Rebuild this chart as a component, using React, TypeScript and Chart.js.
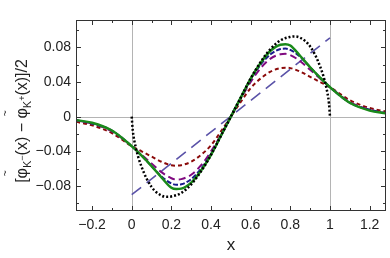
import React, { useEffect, useRef } from "react";
import { Chart, registerables } from "chart.js";

Chart.register(...registerables);

// ---------- data ----------
const curveX = [-0.28, -0.2, -0.1, 0, 0.05, 0.1, 0.15, 0.2, 0.225, 0.25, 0.3, 0.35, 0.4, 0.45, 0.5, 0.55, 0.6, 0.65, 0.7, 0.75, 0.775, 0.8, 0.85, 0.9, 0.95, 1, 1.1, 1.2, 1.28];
const greenY = [-0.004, -0.007, -0.016, -0.034, -0.045, -0.057, -0.07, -0.082, -0.0835, -0.083, -0.076, -0.062, -0.044, -0.022, 0, 0.022, 0.044, 0.062, 0.076, 0.083, 0.0835, 0.082, 0.07, 0.057, 0.045, 0.034, 0.016, 0.007, 0.004];
const navyY = [-0.004, -0.008, -0.016, -0.034, -0.045, -0.057, -0.069, -0.077, -0.0785, -0.078, -0.072, -0.06, -0.043, -0.022, 0, 0.022, 0.043, 0.06, 0.072, 0.078, 0.0785, 0.077, 0.069, 0.057, 0.045, 0.034, 0.016, 0.008, 0.004];
const purpleY = [-0.004, -0.008, -0.017, -0.034, -0.044, -0.054, -0.064, -0.071, -0.0725, -0.072, -0.067, -0.056, -0.04, -0.021, 0, 0.021, 0.04, 0.056, 0.067, 0.072, 0.0725, 0.071, 0.064, 0.054, 0.044, 0.034, 0.017, 0.008, 0.004];
const redY = [-0.006, -0.01, -0.019, -0.034, -0.04, -0.046, -0.052, -0.056, -0.0565, -0.056, -0.052, -0.044, -0.033, -0.017, 0, 0.017, 0.033, 0.044, 0.052, 0.056, 0.0565, 0.056, 0.052, 0.046, 0.04, 0.034, 0.019, 0.01, 0.006];
const blackX = [0, 0.005, 0.02, 0.05, 0.1, 0.15, 0.18, 0.2, 0.25, 0.3, 0.35, 0.4, 0.45, 0.5, 0.55, 0.6, 0.65, 0.7, 0.75, 0.8, 0.82, 0.85, 0.9, 0.95, 0.98, 0.995, 1];
const blackY = [0, -0.015, -0.035, -0.058, -0.081, -0.091, -0.0925, -0.092, -0.088, -0.078, -0.063, -0.044, -0.022, 0, 0.022, 0.044, 0.063, 0.078, 0.088, 0.092, 0.0925, 0.091, 0.081, 0.058, 0.035, 0.015, 0];
const lineX = [0, 1];
const lineY = [-0.09, 0.091];

const xTickValues = [-0.2, 0, 0.2, 0.4, 0.6, 0.8, 1, 1.2];
const xTickLabels = ["−0.2", "0", "0.2", "0.4", "0.6", "0.8", "1", "1.2"];
const xMinorTicks = [-0.1, 0.1, 0.3, 0.5, 0.7, 0.9, 1.1];
const yTickValues = [-0.08, -0.04, 0, 0.04, 0.08];
const yTickLabels = ["−0.08", "−0.04", "0", "0.04", "0.08"];
const yMinorTicks = [-0.1, -0.06, -0.02, 0.02, 0.06, 0.1];
const xGridValues = [0, 1];
const yGridValues = [0];
const xTitle = "x";

const pts = (xs: number[], ys: number[]) => xs.map((x, i) => ({ x, y: ys[i] }));

const FONT = "'Liberation Sans', Arial, sans-serif";

const framePlugin = {
  id: "frame",
  beforeDatasetsDraw(chart: any) {
    const { ctx, chartArea: a, scales } = chart;
    ctx.save();
    ctx.strokeStyle = "#b4b4b4";
    ctx.lineWidth = 1;
    xGridValues.forEach((v) => {
      const px = Math.round(scales.x.getPixelForValue(v)) + 0.5;
      ctx.beginPath();
      ctx.moveTo(px, a.top);
      ctx.lineTo(px, a.bottom);
      ctx.stroke();
    });
    yGridValues.forEach((v) => {
      const py = Math.round(scales.y.getPixelForValue(v)) + 0.5;
      ctx.beginPath();
      ctx.moveTo(a.left, py);
      ctx.lineTo(a.right, py);
      ctx.stroke();
    });
    ctx.restore();
  },
  afterDatasetsDraw(chart: any) {
    const { ctx, chartArea: a, scales } = chart;
    ctx.save();
    ctx.strokeStyle = "#333";
    ctx.lineWidth = 1;
    ctx.strokeRect(a.left + 0.5, a.top + 0.5, a.right - a.left - 1, a.bottom - a.top - 1);
    const xt = (vals: number[], len: number) =>
      vals.forEach((v) => {
        const px = Math.round(scales.x.getPixelForValue(v)) + 0.5;
        ctx.beginPath();
        ctx.moveTo(px, a.bottom);
        ctx.lineTo(px, a.bottom - len);
        ctx.moveTo(px, a.top);
        ctx.lineTo(px, a.top + len);
        ctx.stroke();
      });
    const yt = (vals: number[], len: number) =>
      vals.forEach((v) => {
        const py = Math.round(scales.y.getPixelForValue(v)) + 0.5;
        ctx.beginPath();
        ctx.moveTo(a.left, py);
        ctx.lineTo(a.left + len, py);
        ctx.moveTo(a.right, py);
        ctx.lineTo(a.right - len, py);
        ctx.stroke();
      });
    xt(xTickValues, 5);
    xt(xMinorTicks, 3);
    yt(yTickValues, 5);
    yt(yMinorTicks, 3);

    // x title
    ctx.fillStyle = "#222";
    ctx.font = `17px ${FONT}`;
    ctx.textAlign = "center";
    ctx.textBaseline = "middle";
    ctx.fillText(xTitle, (a.left + a.right) / 2, 245);

    // y title (rich text, rotated)
    const segs: { t: string; size: number; dy: number; tilde?: boolean }[] = [
      { t: "[", size: 16, dy: 0 },
      { t: "φ", size: 16, dy: 0, tilde: true },
      { t: "K", size: 11, dy: 4 },
      { t: "−", size: 9, dy: -2 },
      { t: "(x) − ", size: 16, dy: 0 },
      { t: "φ", size: 16, dy: 0, tilde: true },
      { t: "K", size: 11, dy: 4 },
      { t: "+", size: 9, dy: -2 },
      { t: "(x)]/2", size: 16, dy: 0 },
    ];
    ctx.translate(22, 121);
    ctx.rotate(-Math.PI / 2);
    ctx.textAlign = "left";
    ctx.textBaseline = "alphabetic";
    let total = 0;
    const widths = segs.map((s) => {
      ctx.font = `${s.size}px ${FONT}`;
      const w = ctx.measureText(s.t).width;
      total += w;
      return w;
    });
    let u = -total / 2;
    const base = 5;
    segs.forEach((s, i) => {
      ctx.font = `${s.size}px ${FONT}`;
      ctx.fillText(s.t, u, base + s.dy);
      if (s.tilde) {
        ctx.font = `10px ${FONT}`;
        ctx.textAlign = "center";
        ctx.fillText("~", u + widths[i] / 2, base - 18);
        ctx.textAlign = "left";
      }
      u += widths[i];
    });
    ctx.restore();
  },
};

export default function App() {
  const ref = useRef<HTMLCanvasElement | null>(null);
  useEffect(() => {
    if (!ref.current) return;
    const common = { pointRadius: 0, fill: false, cubicInterpolationMode: "monotone" as const, borderCapStyle: "butt" as const };
    const chart = new Chart(ref.current, {
      type: "line",
      data: {
        datasets: [
          { ...common, data: pts(blackX, blackY), borderColor: "#000", borderWidth: 2.5, borderDash: [2, 2] },
          { ...common, data: pts(curveX, greenY), borderColor: "#1a8a1a", borderWidth: 2.5 },
          { ...common, data: pts(curveX, navyY), borderColor: "#1a1a8c", borderWidth: 2, borderDash: [5, 2] },
          { ...common, data: pts(curveX, purpleY), borderColor: "#800a80", borderWidth: 2, borderDash: [7, 4] },
          { ...common, data: pts(curveX, redY), borderColor: "#8b0a0a", borderWidth: 2, borderDash: [4, 3] },
          { ...common, data: pts(lineX, lineY), borderColor: "#5a52a8", borderWidth: 1.6, borderDash: [12, 7], cubicInterpolationMode: "default" as const, tension: 0 },
        ],
      },
      options: {
        animation: false,
        responsive: true,
        maintainAspectRatio: false,
        layout: { padding: { top: 20, right: 4, left: 0, bottom: 0 } },
        plugins: { legend: { display: false }, tooltip: { enabled: false } },
        scales: {
          x: {
            type: "linear",
            min: -0.281,
            max: 1.2825,
            grid: { display: false, drawTicks: false },
            border: { display: false },
            afterBuildTicks: (s: any) => {
              s.ticks = xTickValues.map((v) => ({ value: v }));
            },
            afterFit: (s: any) => {
              s.height = 47;
            },
            ticks: {
              padding: 6,
              maxRotation: 0,
              autoSkip: false,
              color: "#222",
              font: { family: FONT, size: 14 },
              callback: (v: any) => xTickLabels[xTickValues.indexOf(Number(v))] ?? "",
            },
          },
          y: {
            type: "linear",
            min: -0.1088,
            max: 0.1115,
            grid: { display: false, drawTicks: false },
            border: { display: false },
            afterBuildTicks: (s: any) => {
              s.ticks = yTickValues.map((v) => ({ value: v }));
            },
            afterFit: (s: any) => {
              s.width = 76;
            },
            ticks: {
              padding: 5,
              autoSkip: false,
              color: "#222",
              font: { family: FONT, size: 14 },
              callback: (v: any) => yTickLabels[yTickValues.indexOf(Number(v))] ?? "",
            },
          },
        },
      },
      plugins: [framePlugin],
    });
    return () => chart.destroy();
  }, []);
  return (
    <div style={{ position: "fixed", left: 0, top: 0, width: 390, height: 258, background: "#fff" }}>
      <canvas ref={ref} />
    </div>
  );
}
